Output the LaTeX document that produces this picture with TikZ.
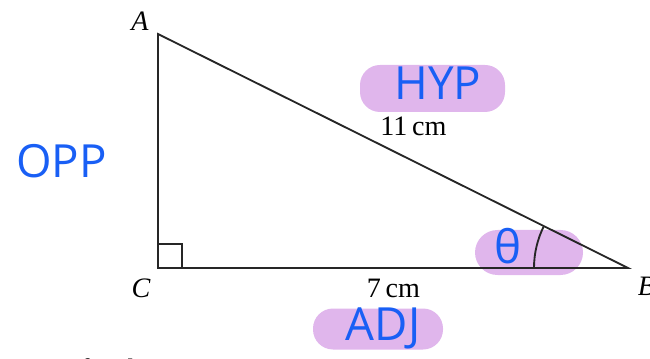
\documentclass[tikz,border=0pt]{standalone}
\usepackage{fontspec}
\setmainfont{Liberation Serif}
\newfontfamily\handfont{Open Sans}
\usepackage{xcolor}
\usepackage{tikz}
\usetikzlibrary{positioning}
\definecolor{penblue}{RGB}{25,95,245}
\definecolor{hlpurple}{RGB}{224,182,236}
\tikzset{
	vtx/.style={inner sep=0pt, font=\fontsize{16}{18}\selectfont\itshape, anchor=base},
	len/.style={inner sep=0pt, font=\fontsize{16}{18}\selectfont, anchor=base},
	hand/.style={inner sep=0pt, text=penblue, font=\handfont\fontsize{26}{30}\selectfont},
	hl/.style={fill=hlpurple, draw=none, rounded corners=4mm},
	side/.style={line width=1.05pt, black!85},
}
\begin{document}
\begin{tikzpicture}[x=1cm, y=1cm]
				\clip (0,0) rectangle (13,7.16);
				% highlighter marks
				\node[hl, minimum width=2.9cm, minimum height=0.94cm] at (8.65,5.39) (hlhyp) {};
				\node[hl, minimum width=2.16cm, minimum height=0.9cm, rounded corners=4.5mm] at (10.58,2.11) (hlth) {};
				\node[hl, minimum width=2.6cm, minimum height=0.82cm] at (7.56,0.58) (hladj) {};
				% triangle
				\coordinate (A) at (3.16,6.48);
				\coordinate (C) at (3.16,1.80);
				\coordinate (B) at (12.56,1.80);
				\draw[side] (A) -- (B) -- (C) -- cycle;
				\draw[side] ([yshift=4.8mm]C) -| ([xshift=4.8mm]C);
				\draw[side] ([xshift=-18.8mm]B) arc[start angle=180, end angle=153.5, radius=1.88];
				\node[vtx] at (2.80,6.54) (labA) {A};
				\node[vtx] at (2.82,1.22) (labC) {C};
				\node[vtx] at (12.93,1.26) (labB) {B};
				\node[len] at (8.27,4.44) (hyp) {11\,cm};
				\node[len] at (7.87,1.22) (adj) {7\,cm};
				% pen notes
				\node[hand] at (1.23,3.94) (opp) {OPP};
				\node[hand] at (8.76,5.50) (hyptxt) {HYP};
				\node[hand] at (10.16,2.24) (theta) {θ};
				\node[hand] at (7.66,0.60) (adjtxt) {ADJ};
				\node[len, anchor=base west] at (0.52,-0.40) (cut) {ions for the \textit{ABC}};
			\end{tikzpicture}
\end{document}
